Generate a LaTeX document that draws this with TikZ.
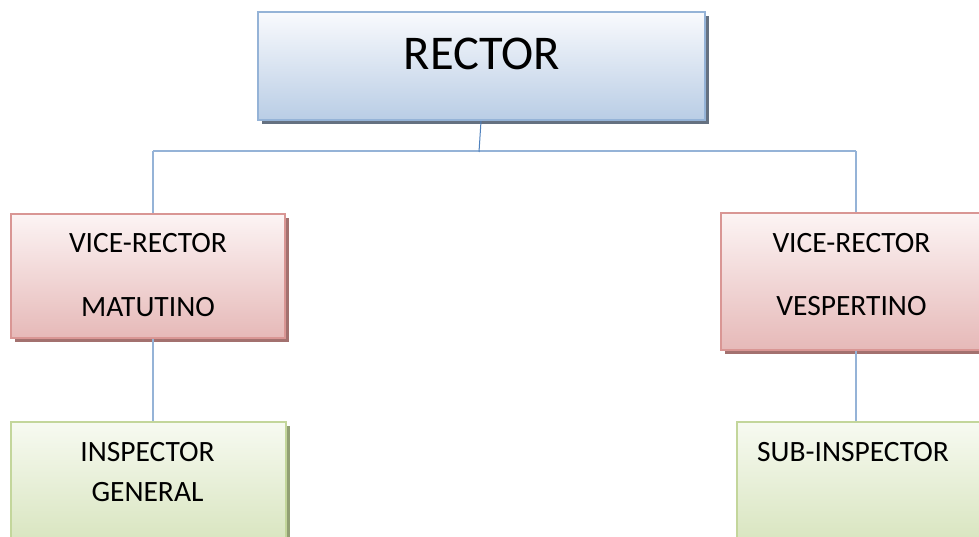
\documentclass[tikz,border=0pt]{standalone}
\usepackage{fontspec}
\setmainfont{Carlito}
\usetikzlibrary{shadows}
\definecolor{bluebd}{HTML}{95B3D7}
\definecolor{bluetop}{HTML}{F9FAFD}
\definecolor{bluebot}{HTML}{B9CDE5}
\definecolor{redbd}{HTML}{D99694}
\definecolor{redtop}{HTML}{FCF4F4}
\definecolor{redbot}{HTML}{E6B9B8}
\definecolor{grnbd}{HTML}{C3D69B}
\definecolor{grntop}{HTML}{F7FAF1}
\definecolor{grnbot}{HTML}{D7E4BD}
\definecolor{linec}{HTML}{95B3D7}
\definecolor{stubc}{HTML}{4F81BD}
\tikzset{
  box/.style={rectangle, line width=2.4pt, inner sep=0pt},
  bluebox/.style={box, draw=bluebd, top color=bluetop, bottom color=bluebot,
    drop shadow={shadow xshift=4pt, shadow yshift=-4pt, fill=black!40!bluebd!70!gray, opacity=1}},
  redbox/.style={box, draw=redbd, top color=redtop, bottom color=redbot,
    drop shadow={shadow xshift=4pt, shadow yshift=-4pt, fill=black!25!redbd, opacity=1}},
  grnbox/.style={box, draw=grnbd, top color=grntop, bottom color=grnbot,
    drop shadow={shadow xshift=4pt, shadow yshift=-4pt, fill=black!25!grnbd, opacity=1}},
  lbl/.style={anchor=base, inner sep=0pt, font=\fontsize{29.5}{29.5}\selectfont},
  conn/.style={draw=linec, line width=2pt},
}
\begin{document}
\begin{tikzpicture}[x=1pt,y=-1pt]
\useasboundingbox (0,0) rectangle (979,537);
\fill[white] (0,0) rectangle (979,537);
% boxes
\node[bluebox, minimum width=447pt, minimum height=108pt] (rector) at (481.5,66) {};
\node[redbox, minimum width=274pt, minimum height=124pt] (vrm) at (148,276) {};
\node[redbox, minimum width=264pt, minimum height=137pt] (vrv) at (853,281.5) {};
\node[grnbox, minimum width=275pt, minimum height=126pt] (ig) at (148.5,485) {};
\node[grnbox, minimum width=250pt, minimum height=126pt] (sub) at (862,485) {};
% texts
\node[anchor=base, inner sep=0pt, font=\fontsize{48.5}{48.5}\selectfont] (trector) at (482,70) {RECTOR};
\node[lbl] (tvrm1) at (148,253) {VICE-RECTOR};
\node[lbl] (tvrm2) at (148,316.5) {MATUTINO};
\node[lbl] (tvrv1) at (851.5,253) {VICE-RECTOR};
\node[lbl] (tvrv2) at (851.5,315) {VESPERTINO};
\node[lbl] (tig1) at (147.5,461.5) {INSPECTOR};
\node[lbl] (tig2) at (147.5,501.5) {GENERAL};
\node[lbl] (tsub) at (853,461.5) {SUB-INSPECTOR};
% bus
\coordinate (busl) at (153,151);
\coordinate (busr) at (856,151);
\coordinate (busm) at (479,152);
\draw[conn] (busl) -- (busr);
\draw[conn] (busl) -- (busl |- vrm.north);
\draw[conn] (busr) -- (busr |- vrv.north);
\draw[draw=stubc, line width=1pt] ([xshift=-0.5pt]rector.south) -- (busm);
\draw[conn] ([xshift=5pt]vrm.south) -- ([xshift=5pt]vrm.south |- ig.north);
\draw[conn] ([xshift=3pt]vrv.south) -- ([xshift=3pt]vrv.south |- sub.north);
\end{tikzpicture}
\end{document}
